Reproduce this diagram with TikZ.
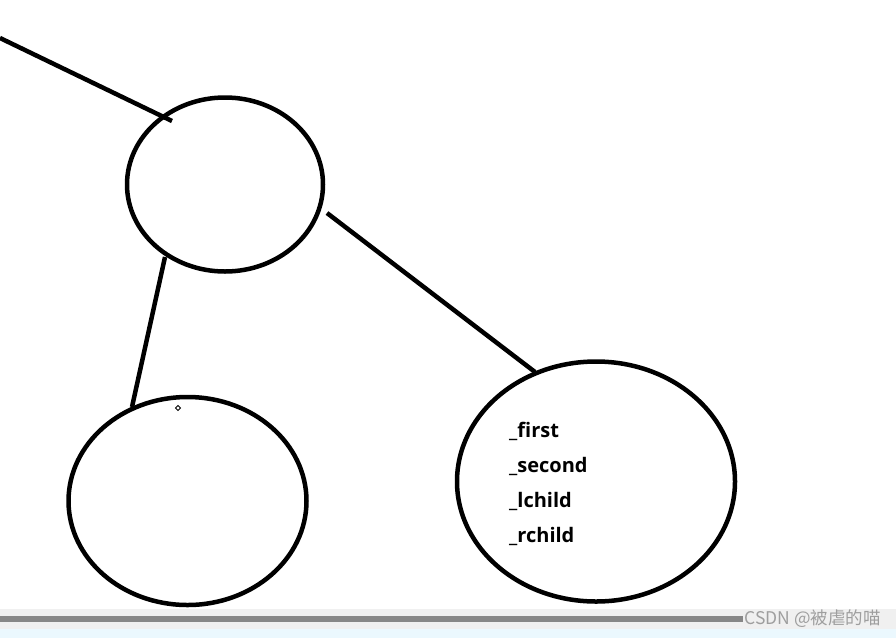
\documentclass[tikz,border=0pt]{standalone}
\usepackage{fontspec}
\setsansfont{Open Sans}
\newfontfamily\cjk{Noto Sans CJK SC}
\begin{document}
\begin{tikzpicture}[x=1pt,y=-1pt,
  ln/.style={line width=4.5pt,black},
  lbl/.style={anchor=west,inner sep=0pt,font=\sffamily\bfseries\fontsize{20}{20}\selectfont}]
\useasboundingbox (0,0) rectangle (896,638);
\fill[white] (0,0) rectangle (896,638);
% bottom strips
\fill[black!6] (0,609) rectangle (896,629);
\fill[black!47] (0,616) rectangle (743,622);
\fill[cyan!8!white] (0,629) rectangle (896,638);
\node[anchor=east,inner sep=0pt,text=black!38,font=\cjk\fontsize{17.5}{17.5}\selectfont] (wm) at (881,619) {CSDN @被虐的喵};
% ellipses
\draw[ln] (225,184.5) ellipse [x radius=98, y radius=87];
\node (top) at (225,184.5) {};
\draw[ln] (187.5,501) ellipse [x radius=119, y radius=104];
\node (left) at (187.5,501) {};
\draw[ln] (596,481.5) ellipse [x radius=139, y radius=120];
\node (right) at (596,481.5) {};
% connectors
\coordinate (a1) at (0,38);
\coordinate (a2) at (172,121);
\coordinate (b1) at (165,257);
\coordinate (b2) at (132,407);
\coordinate (c1) at (327,213);
\coordinate (c2) at (535,372);
\draw[ln] (a1) -- (a2);
\draw[ln] (b1) -- (b2);
\draw[ln] (c1) -- (c2);
% small diamond
\draw[line width=1pt] (178,405.5) -- (180.5,408) -- (178,410.5) -- (175.5,408) -- cycle;
% labels
\node[lbl] (f) at (509,431) {\_first};
\node[lbl] (s) at (509,466) {\_second};
\node[lbl] (l) at (509,501) {\_lchild};
\node[lbl] (r) at (509,536) {\_rchild};
\end{tikzpicture}
\end{document}
